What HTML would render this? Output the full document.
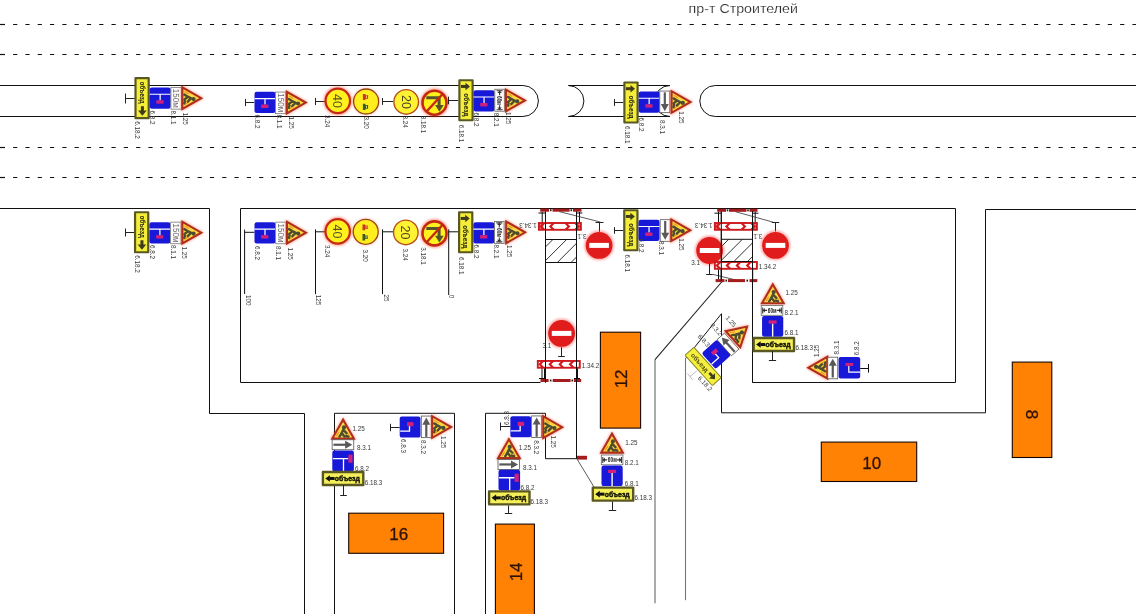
<!DOCTYPE html><html><head><meta charset="utf-8"><style>html,body{margin:0;padding:0;background:#fff;overflow:hidden}svg{display:block;font-family:"Liberation Sans",sans-serif}</style></head><body>
<svg width="1136" height="614" viewBox="0 0 1136 614">
<defs>
 <filter id="gl" x="-40%" y="-40%" width="180%" height="180%"><feGaussianBlur stdDeviation="0.8"/></filter>
 <g id="tri">
  <polygon points="-10.8,9.8 10.8,9.8 0,-9.1" fill="none" stroke="#ff5a40" stroke-width="3.8" stroke-linejoin="round" opacity="0.4" filter="url(#gl)"/>
  <polygon points="-10.8,9.8 10.8,9.8 0,-9.1" fill="#ffd840" stroke="#b02e1c" stroke-width="2.1" stroke-linejoin="miter"/>
  <path d="M-6.8,7.6 L-4.2,3.4 M6.4,7.6 L3.8,3.4" stroke="#f09828" stroke-width="1.3"/>
  <circle cx="0.9" cy="-1.4" r="2.1" fill="#4d4c30"/>
  <path d="M0.2,1 L-1.9,5 L-3.6,7.8 M-1.2,4.5 L1.4,7.8 M0.5,1.4 L3.4,4.4 M3,7.2 L5.2,7.9" stroke="#4d4c30" stroke-width="2.4" fill="none" stroke-linecap="round"/>
 </g>
 <g id="bA">
  <rect x="-10.5" y="-10.6" width="21" height="21.2" rx="2.2" fill="#1818d8"/>
  <path d="M-10.5,-3.8 H10.5 M0,-3.8 V2.2" stroke="#fff" stroke-width="1.2" fill="none"/>
  <rect x="-3.8" y="2.2" width="7.2" height="3.4" fill="#d0207a"/>
 </g>
 <g id="b81">
  <rect x="-10.6" y="-10.3" width="21.2" height="20.6" rx="2.2" fill="#1818d8"/>
  <path d="M0,-3 V10.3" stroke="#fff" stroke-width="1.4" fill="none"/>
  <rect x="-4" y="-6" width="8" height="3.2" fill="#d0207a"/>
 </g>
 <g id="b82u">
  <rect x="-10.8" y="-10.4" width="21.6" height="20.8" rx="2.2" fill="#1818d8"/>
  <path d="M-10.2,-2.3 H5.3 M0.4,-2.3 V10.4" stroke="#fff" stroke-width="1.3" fill="none"/>
  <rect x="5.3" y="-6.3" width="4.1" height="8.1" fill="#d0207a"/>
 </g>
 <g id="b83">
  <rect x="-10.4" y="-10.6" width="20.8" height="21.2" rx="2.2" fill="#1818d8"/>
  <path d="M-10,4.1 H-0.6 V-1" stroke="#fff" stroke-width="1.3" fill="none"/>
  <rect x="-3" y="-4.9" width="6.4" height="4.1" fill="#d0207a"/>
 </g>
 <g id="bD">
  <rect x="-10.8" y="-10.8" width="21.6" height="21.6" rx="2.2" fill="#1818d8"/>
  <path d="M-0.6,-1.8 V4.4 H10.8" stroke="#fff" stroke-width="1.2" fill="none"/>
  <rect x="-3.9" y="-4.7" width="7.7" height="2.9" fill="#d0207a"/>
 </g>
 <g id="p811">
  <rect x="-5.2" y="-10.8" width="10.4" height="21.6" fill="#fff" stroke="#777" stroke-width="0.8"/>
  <text opacity="0.99" transform="rotate(90)" x="0" y="2.9" text-anchor="middle" font-size="8.2" fill="#6a6a6a" textLength="19" lengthAdjust="spacingAndGlyphs">150м</text>
 </g>
 <g id="p821">
  <rect x="-4.8" y="-11" width="9.6" height="22" fill="#fff" stroke="#666" stroke-width="0.8"/>
  <path d="M-3,-9.5 H3 M-3,9.5 H3 M0,-9.5 V-5 M0,9.5 V5" stroke="#333" stroke-width="1.1"/>
  <polygon points="-2.3,-7.3 2.3,-7.3 0,-9.5" fill="#333"/><polygon points="-2.3,7.3 2.3,7.3 0,9.5" fill="#333"/>
  <text opacity="0.99" transform="rotate(90)" x="0.2" y="2.2" text-anchor="middle" font-size="6.4" font-weight="bold" fill="#222" textLength="9" lengthAdjust="spacingAndGlyphs">60м</text>
 </g>
 <g id="p821u">
  <rect x="-10.8" y="-4.9" width="21.6" height="9.8" fill="#fff" stroke="#666" stroke-width="0.8"/>
  <path d="M-9.3,-3 V3 M9.3,-3 V3 M-9.3,0 H-5 M9.3,0 H5" stroke="#333" stroke-width="1.1"/>
  <polygon points="-7.1,-2.3 -7.1,2.3 -9.3,0" fill="#333"/><polygon points="7.1,-2.3 7.1,2.3 9.3,0" fill="#333"/>
  <text opacity="0.99" x="0.2" y="2.2" text-anchor="middle" font-size="6.4" font-weight="bold" fill="#222" textLength="9" lengthAdjust="spacingAndGlyphs">60м</text>
 </g>
 <g id="p831u">
  <rect x="-10.8" y="-5" width="21.6" height="10" fill="#fff" stroke="#555" stroke-width="0.8"/>
  <path d="M-9.5,0 H3" stroke="#585858" stroke-width="2.2"/>
  <polygon points="2.2,-4 2.2,4 9.3,0" fill="#585858"/>
 </g>
 <g id="p832">
  <rect x="-5" y="-10.8" width="10" height="21.6" fill="#fff" stroke="#555" stroke-width="0.8"/>
  <path d="M0,10 V-3" stroke="#585858" stroke-width="2.2"/>
  <polygon points="-4,-2.2 4,-2.2 0,-9.3" fill="#585858"/>
 </g>
 <g id="y182">
  <rect x="-6.6" y="-20" width="13.2" height="40" fill="#f4ee3a" stroke="#5a5822" stroke-width="2.2" stroke-linejoin="round"/>
  <path d="M0.3,8 V13" stroke="#3e3c1a" stroke-width="3"/>
  <polygon points="-4,12.3 4.6,12.3 0.3,17.6" fill="#3e3c1a"/>
  <text opacity="0.99" transform="rotate(90)" x="-5.5" y="2" text-anchor="middle" font-size="6.4" font-weight="bold" fill="#2e2c10" stroke="#2e2c10" stroke-width="0.1" textLength="22" lengthAdjust="spacingAndGlyphs">объезд</text>
 </g>
 <g id="y182e">
  <rect x="-6" y="-20.4" width="12" height="40.8" rx="0.8" fill="#f3ef3c" stroke="#8a8820" stroke-width="1"/>
  <path d="M0.3,9 V13.5" stroke="#3e3c1a" stroke-width="2.6"/>
  <polygon points="-3.6,13 4.2,13 0.3,17.6" fill="#3e3c1a"/>
  <text opacity="0.99" transform="rotate(90)" x="-5" y="2.2" text-anchor="middle" font-size="6.4" font-weight="bold" fill="#4a4818" textLength="23" lengthAdjust="spacingAndGlyphs">объезд</text>
 </g>
 <g id="y181">
  <rect x="-6.6" y="-20" width="13.2" height="40" fill="#f4ee3a" stroke="#5a5822" stroke-width="2.2" stroke-linejoin="round"/>
  <path d="M-5,-13.8 H0" stroke="#3e3c1a" stroke-width="3"/>
  <polygon points="-0.5,-17.6 -0.5,-10 4,-13.8" fill="#3e3c1a"/>
  <text opacity="0.99" transform="rotate(90)" x="4.6" y="2.3" text-anchor="middle" font-size="6.4" font-weight="bold" fill="#2e2c10" stroke="#2e2c10" stroke-width="0.1" textLength="23" lengthAdjust="spacingAndGlyphs">объезд</text>
 </g>
 <g id="y183u">
  <rect x="-20.2" y="-6.5" width="40.4" height="13" fill="#f5f05a" stroke="#5a5822" stroke-width="2.4" stroke-linejoin="round"/>
  <path d="M-13.5,0 H-8.5" stroke="#111" stroke-width="3"/>
  <polygon points="-13.2,-3.3 -13.2,3.3 -17.8,0" fill="#111"/>
  <text opacity="0.99" x="4.2" y="2.4" text-anchor="middle" font-size="7" font-weight="bold" fill="#141404" stroke="#141404" stroke-width="0.45" textLength="25" lengthAdjust="spacingAndGlyphs">объезд</text>
 </g>
 <g id="ring">
  <circle r="12.9" fill="none" stroke="#ff4a2a" stroke-width="3.4" opacity="0.45" filter="url(#gl)"/>
 </g>
 <g id="c40">
  <use href="#ring"/>
  <circle r="12.2" fill="#fff01e" stroke="#c42812" stroke-width="2.2"/>
  <text opacity="0.99" transform="rotate(90)" x="0" y="4.4" text-anchor="middle" font-size="12.5" fill="#56542a">40</text>
 </g>
 <g id="c20">
  <circle r="12.3" fill="#fff232" stroke="#b8501e" stroke-width="1.4"/>
  <text opacity="0.99" transform="rotate(90)" x="0" y="4.4" text-anchor="middle" font-size="12.5" fill="#46441e">20</text>
 </g>
 <g id="c320">
  <circle r="12.9" fill="none" stroke="#ff6a4a" stroke-width="1.6" opacity="0.35" filter="url(#gl)"/>
  <circle r="12.5" fill="#ffee1e" stroke="#9a4214" stroke-width="1.3"/>
  <path d="M-3.2,-7.4 H-0.6 V-1.6 H-3.2 Z M-0.6,-6.2 H2 V-2.8 H-0.6 Z" fill="#c8381a"/><path d="M0.4,-5.6 V-3.4" stroke="#ffd0a0" stroke-width="0.8"/>
  <path d="M-3.2,2.2 H-0.6 V8.6 H-3.2 Z M-0.6,3.6 H2 V7.2 H-0.6 Z" fill="#3e5a1e"/><path d="M0.4,4.2 V6.6" stroke="#e8f0a0" stroke-width="0.8"/>
 </g>
 <g id="c3181">
  <use href="#ring"/>
  <circle r="12" fill="#fff01e" stroke="#c42812" stroke-width="2.6"/>
  <path d="M-8.2,-4.9 H4.6 V3" stroke="#56542a" stroke-width="3" fill="none"/>
  <polygon points="0.6,2.4 9.2,2.4 4.9,9" fill="#56542a"/>
  <path d="M8.6,-9.2 L-8.6,9.6" stroke="#c42812" stroke-width="2.4"/>
 </g>
 <g id="ne">
  <circle r="13.6" fill="none" stroke="#ff3a3a" stroke-width="2.6" opacity="0.45" filter="url(#gl)"/>
  <circle r="13.4" fill="#e01c1c"/>
  <rect x="-9.8" y="-2.5" width="19.6" height="5" fill="#fff"/>
 </g>
 <g id="chL"><polygon points="-3,0 0.6,-3.6 3.6,-3.6 0,0 3.6,3.6 0.6,3.6" fill="#d01a1e"/></g>
 <g id="chR"><polygon points="3,0 -0.6,-3.6 -3.6,-3.6 0,0 -3.6,3.6 -0.6,3.6" fill="#d01a1e"/></g>
 <g id="ch3">
  <rect x="-21" y="-3.4" width="42" height="6.8" fill="#fff" stroke="#d01a1e" stroke-width="1.9"/>
  <use href="#chL" x="-17.5"/><use href="#chL" x="-8"/><use href="#chR" x="7.5"/><use href="#chR" x="17.2"/>
  <rect x="-21" y="-3.4" width="4.5" height="6.8" fill="#d01a1e" opacity="0.55"/><rect x="16.5" y="-3.4" width="4.5" height="6.8" fill="#d01a1e" opacity="0.55"/>
 </g>
 <g id="ch2">
  <rect x="-21" y="-3.4" width="42" height="6.8" fill="#fff" stroke="#d01a1e" stroke-width="1.9"/>
  <use href="#chL" x="-17.5"/><use href="#chL" x="-7.5"/><use href="#chL" x="2.5"/><use href="#chL" x="12.8"/>
 </g>
</defs>
<rect width="1136" height="614" fill="#fff"/>
<g opacity="0.995">
<text x="688.6" y="13.3" font-size="13.4" fill="#282828" stroke="#fff" stroke-width="0.15" textLength="109.3" lengthAdjust="spacingAndGlyphs">пр-т Строителей</text>
<path d="M0,24.5 H1136" stroke="#111" stroke-width="1.2" stroke-dasharray="4.2 8.1" stroke-dashoffset="-0.8"/>
<path d="M0,24.5 H5" stroke="#111" stroke-width="1.2"/>
<path d="M0,54.5 H1136" stroke="#111" stroke-width="1.2" stroke-dasharray="4.2 8.1" stroke-dashoffset="-0.8"/>
<path d="M0,54.5 H5" stroke="#111" stroke-width="1.2"/>
<path d="M0,147.5 H1136" stroke="#111" stroke-width="1.2" stroke-dasharray="4.2 8.1" stroke-dashoffset="-0.8"/>
<path d="M0,147.5 H5" stroke="#111" stroke-width="1.2"/>
<path d="M0,177.5 H1136" stroke="#111" stroke-width="1.2" stroke-dasharray="4.2 8.1" stroke-dashoffset="-0.8"/>
<path d="M0,177.5 H5" stroke="#111" stroke-width="1.2"/>
<path d="M0,85.5 H522.9 A15.5,15.5 0 0 1 522.9,116.5 H0" fill="none" stroke="#111" stroke-width="1"/>
<path d="M568.4,85.5 H670 M568.4,116.5 H670 M568.4,85.5 A15.5,15.5 0 0 1 568.4,116.5 M670,85.5 A15.5,15.5 0 0 0 670,116.5" fill="none" stroke="#111" stroke-width="1"/>
<path d="M1136,85.5 H715.3 A15.5,15.5 0 0 0 715.3,116.5 H1136" fill="none" stroke="#111" stroke-width="1"/>
<path d="M0.00,208.50 L209.50,208.50 L209.50,413.50 L304.50,413.50 L304.50,614.00" fill="none" stroke="#111" stroke-width="1"/>
<path d="M540.50,382.50 L240.50,382.50 L240.50,208.50 L955.50,208.50 L955.50,382.50 L752.50,382.50 L752.50,211.00" fill="none" stroke="#111" stroke-width="1"/>
<path d="M545.50,211.50 L545.50,382.50" fill="none" stroke="#111" stroke-width="1"/>
<path d="M576.50,211.50 L576.50,458.70" fill="none" stroke="#111" stroke-width="1"/>
<path d="M485.50,614.00 L485.50,413.30 L545.50,413.30 L545.50,458.70 L576.50,458.70" fill="none" stroke="#111" stroke-width="1"/>
<path d="M334.50,614.00 L334.50,413.30 L454.50,413.30 L454.50,614.00" fill="none" stroke="#111" stroke-width="1"/>
<path d="M685.50,600.20 L685.50,358.60" fill="none" stroke="#777" stroke-width="1.1"/>
<path d="M685.50,358.60 L721.50,313.70 L721.50,412.80 L985.50,412.80 L985.50,209.50 L1136.00,209.50" fill="none" stroke="#111" stroke-width="1"/>
<path d="M655.00,603.30 L655.00,359.60" fill="none" stroke="#888" stroke-width="1.4"/>
<path d="M655.00,359.60 L722.50,281.00" fill="none" stroke="#222" stroke-width="1.1"/>
<path d="M721.30,211.50 L721.30,281.00" fill="none" stroke="#111" stroke-width="1"/>
<rect x="600.40" y="332.20" width="40.20" height="95.90" fill="#ff8205" stroke="#160600" stroke-width="1.1"/>
<text transform="translate(621.30,378.90) rotate(-90)" x="0" y="6.1" text-anchor="middle" font-size="17" fill="#2e1204" stroke="#2e1204" stroke-width="0.3">12</text>
<rect x="821.30" y="442.10" width="95.40" height="39.40" fill="#ff8205" stroke="#160600" stroke-width="1.1"/>
<text transform="translate(871.80,462.60)" x="0" y="6.1" text-anchor="middle" font-size="17" fill="#2e1204" stroke="#2e1204" stroke-width="0.3">10</text>
<rect x="1012.30" y="362.10" width="39.50" height="95.40" fill="#ff8205" stroke="#160600" stroke-width="1.1"/>
<text transform="translate(1032.00,414.60) rotate(90)" x="0" y="6.1" text-anchor="middle" font-size="17" fill="#2e1204" stroke="#2e1204" stroke-width="0.3">8</text>
<rect x="348.70" y="513.20" width="94.90" height="40.10" fill="#ff8205" stroke="#160600" stroke-width="1.1"/>
<text transform="translate(398.80,534.00)" x="0" y="6.1" text-anchor="middle" font-size="17" fill="#2e1204" stroke="#2e1204" stroke-width="0.3">16</text>
<rect x="495.40" y="524.10" width="39.00" height="91.90" fill="#ff8205" stroke="#160600" stroke-width="1.1"/>
<text transform="translate(515.80,571.90) rotate(-90)" x="0" y="6.1" text-anchor="middle" font-size="17" fill="#2e1204" stroke="#2e1204" stroke-width="0.3">14</text>
<rect x="540.20" y="208.70" width="8.80" height="3" fill="#a41c1c"/>
<rect x="552.50" y="208.70" width="17.10" height="3" fill="#a41c1c"/>
<rect x="573.00" y="208.70" width="8.50" height="3" fill="#a41c1c"/>
<rect x="549.95" y="209.20" width="1.6" height="2" fill="#222"/>
<rect x="570.50" y="209.20" width="1.6" height="2" fill="#222"/>
<path d="M538.50,213.00 L545.30,213.00" fill="none" stroke="#111" stroke-width="1"/>
<path d="M576.40,213.00 L582.40,213.00" fill="none" stroke="#111" stroke-width="1"/>
<path d="M542.20,212.00 L542.20,222.40" fill="none" stroke="#111" stroke-width="1"/>
<path d="M579.50,212.00 L579.50,222.40" fill="none" stroke="#111" stroke-width="1"/>
<use href="#ch3" transform="translate(559.90,226.40)"/>
<text transform="translate(528.00,225.50) rotate(180)" x="0" y="2.27" text-anchor="middle" font-size="6.3" fill="#383838">1.34.3</text>
<clipPath id="hc545"><rect x="545.50" y="239.50" width="31.00" height="23.00"/></clipPath>
<path d="M502.50,262.50 L525.50,239.50 M516.20,262.50 L539.20,239.50 M529.90,262.50 L552.90,239.50 M543.60,262.50 L566.60,239.50 M557.30,262.50 L580.30,239.50 M571.00,262.50 L594.00,239.50 " stroke="#333" stroke-width="1" clip-path="url(#hc545)"/>
<path d="M545.50,239.50 L576.50,239.50" fill="none" stroke="#111" stroke-width="1"/>
<path d="M545.50,262.50 L576.50,262.50" fill="none" stroke="#111" stroke-width="1"/>
<path d="M559.30,211.60 L600.30,222.00" fill="none" stroke="#333" stroke-width="0.8"/>
<path d="M595.50,222.50 L603.50,222.50" fill="none" stroke="#222" stroke-width="1"/>
<path d="M599.50,222.50 L599.50,231.80" fill="none" stroke="#222" stroke-width="1"/>
<use href="#ne" transform="translate(599.10,245.40)"/>
<text transform="translate(582.00,236.00) rotate(180)" x="0" y="2.27" text-anchor="middle" font-size="6.3" fill="#383838">3.1</text>
<use href="#ne" transform="translate(561.60,333.40)"/>
<text transform="translate(546.80,345.90)" x="0" y="2.27" text-anchor="middle" font-size="6.3" fill="#383838">3.1</text>
<path d="M558.20,356.50 L564.80,356.50" fill="none" stroke="#222" stroke-width="1"/>
<path d="M561.50,356.50 L561.50,347.20" fill="none" stroke="#222" stroke-width="1"/>
<use href="#ch2" transform="translate(558.80,364.35)"/>
<text transform="translate(590.50,366.00)" x="0" y="2.27" text-anchor="middle" font-size="6.3" fill="#383838">1.34.2</text>
<path d="M542.00,368.40 L542.00,378.00" fill="none" stroke="#111" stroke-width="1"/>
<path d="M544.50,368.40 L544.50,378.00" fill="none" stroke="#111" stroke-width="1"/>
<path d="M577.50,368.40 L577.50,378.00" fill="none" stroke="#111" stroke-width="1"/>
<path d="M539.00,378.50 L546.00,378.50" fill="none" stroke="#111" stroke-width="1"/>
<path d="M574.00,378.50 L580.00,378.50" fill="none" stroke="#111" stroke-width="1"/>
<rect x="540.50" y="379.00" width="8.10" height="3" fill="#a41c1c"/>
<rect x="552.70" y="379.00" width="17.90" height="3" fill="#a41c1c"/>
<rect x="573.90" y="379.00" width="7.30" height="3" fill="#a41c1c"/>
<rect x="549.85" y="379.50" width="1.6" height="2" fill="#222"/>
<rect x="571.45" y="379.50" width="1.6" height="2" fill="#222"/>
<rect x="717.20" y="208.80" width="8.80" height="3" fill="#a41c1c"/>
<rect x="729.00" y="208.80" width="17.50" height="3" fill="#a41c1c"/>
<rect x="749.50" y="208.80" width="8.00" height="3" fill="#a41c1c"/>
<rect x="726.70" y="209.30" width="1.6" height="2" fill="#222"/>
<rect x="747.20" y="209.30" width="1.6" height="2" fill="#222"/>
<path d="M714.50,213.20 L721.30,213.20" fill="none" stroke="#111" stroke-width="1"/>
<path d="M752.70,213.20 L758.50,213.20" fill="none" stroke="#111" stroke-width="1"/>
<path d="M718.50,212.00 L718.50,222.30" fill="none" stroke="#111" stroke-width="1"/>
<path d="M755.20,212.00 L755.20,222.30" fill="none" stroke="#111" stroke-width="1"/>
<use href="#ch3" transform="translate(735.90,226.40)"/>
<text transform="translate(703.70,225.60) rotate(180)" x="0" y="2.27" text-anchor="middle" font-size="6.3" fill="#383838">1.34.3</text>
<path d="M735.50,211.70 L773.60,222.30" fill="none" stroke="#333" stroke-width="0.8"/>
<path d="M771.80,222.50 L779.20,222.50" fill="none" stroke="#222" stroke-width="1"/>
<path d="M775.50,222.50 L775.50,231.50" fill="none" stroke="#222" stroke-width="1"/>
<use href="#ne" transform="translate(775.50,245.40)"/>
<text transform="translate(757.90,236.60) rotate(180)" x="0" y="2.27" text-anchor="middle" font-size="6.3" fill="#383838">3.1</text>
<clipPath id="hc721"><rect x="721.30" y="239.30" width="31.40" height="21.90"/></clipPath>
<path d="M679.40,261.20 L701.30,239.30 M693.10,261.20 L715.00,239.30 M706.80,261.20 L728.70,239.30 M720.50,261.20 L742.40,239.30 M734.20,261.20 L756.10,239.30 M747.90,261.20 L769.80,239.30 " stroke="#333" stroke-width="1" clip-path="url(#hc721)"/>
<path d="M721.30,239.30 L752.70,239.30" fill="none" stroke="#111" stroke-width="1"/>
<use href="#ne" transform="translate(709.60,250.50)"/>
<text transform="translate(695.70,263.00)" x="0" y="2.27" text-anchor="middle" font-size="6.3" fill="#383838">3.1</text>
<path d="M706.20,274.50 L712.80,274.50" fill="none" stroke="#222" stroke-width="1"/>
<path d="M709.50,274.50 L709.50,263.70" fill="none" stroke="#222" stroke-width="1"/>
<path d="M712.80,274.40 L736.00,280.00" fill="none" stroke="#333" stroke-width="0.8"/>
<use href="#ch2" transform="translate(735.90,265.40)"/>
<text transform="translate(767.40,266.70)" x="0" y="2.27" text-anchor="middle" font-size="6.3" fill="#383838">1.34.2</text>
<path d="M718.50,269.60 L718.50,279.00" fill="none" stroke="#111" stroke-width="1"/>
<path d="M721.30,269.60 L721.30,279.00" fill="none" stroke="#111" stroke-width="1"/>
<path d="M752.70,269.60 L752.70,279.00" fill="none" stroke="#111" stroke-width="1"/>
<rect x="715.60" y="279.10" width="8.90" height="3" fill="#a41c1c"/>
<rect x="728.00" y="279.10" width="17.00" height="3" fill="#a41c1c"/>
<rect x="749.50" y="279.10" width="7.80" height="3" fill="#a41c1c"/>
<rect x="725.45" y="279.60" width="1.6" height="2" fill="#222"/>
<rect x="746.45" y="279.60" width="1.6" height="2" fill="#222"/>
<path d="M545.50,211.50 L545.50,382.50" fill="none" stroke="#111" stroke-width="1"/>
<path d="M576.50,211.50 L576.50,458.70" fill="none" stroke="#111" stroke-width="1"/>
<path d="M721.30,211.50 L721.30,281.00" fill="none" stroke="#111" stroke-width="1"/>
<path d="M752.50,211.00 L752.50,382.50" fill="none" stroke="#111" stroke-width="1"/>
<path d="M721.30,261.50 L752.50,261.50" fill="none" stroke="#111" stroke-width="1"/>
<path d="M577.00,459.00 L594.00,487.00" fill="none" stroke="#333" stroke-width="0.8"/>
<rect x="577" y="455.8" width="10" height="3.8" fill="#a41c1c"/>
<path d="M125.50,93.50 L125.50,103.50" fill="none" stroke="#222" stroke-width="1"/>
<path d="M125.50,98.50 L134.70,98.50" fill="none" stroke="#222" stroke-width="1"/>
<use href="#y182" transform="translate(142.10,98.20)"/>
<use href="#bA" transform="translate(160.15,98.05)"/>
<use href="#p811" transform="translate(176.15,98.35)"/>
<use href="#tri" transform="translate(192.15,98.20) rotate(90)"/>
<text transform="translate(137.30,129.90) rotate(90)" x="0" y="2.27" text-anchor="middle" font-size="6.3" fill="#383838">6.18.2</text>
<text transform="translate(152.40,117.40) rotate(90)" x="0" y="2.27" text-anchor="middle" font-size="6.3" fill="#383838">6.8.2</text>
<text transform="translate(173.50,117.40) rotate(90)" x="0" y="2.27" text-anchor="middle" font-size="6.3" fill="#383838">8.1.1</text>
<text transform="translate(185.00,118.50) rotate(90)" x="0" y="2.27" text-anchor="middle" font-size="6.3" fill="#383838">1.25</text>
<path d="M245.50,98.90 L245.50,106.10" fill="none" stroke="#222" stroke-width="1"/>
<path d="M245.50,102.50 L254.20,102.50" fill="none" stroke="#222" stroke-width="1"/>
<use href="#bA" transform="translate(265.00,102.35)"/>
<use href="#p811" transform="translate(280.70,102.85)"/>
<use href="#tri" transform="translate(296.65,102.60) rotate(90)"/>
<text transform="translate(257.60,121.40) rotate(90)" x="0" y="2.27" text-anchor="middle" font-size="6.3" fill="#383838">6.8.2</text>
<text transform="translate(279.00,121.40) rotate(90)" x="0" y="2.27" text-anchor="middle" font-size="6.3" fill="#383838">8.1.1</text>
<text transform="translate(291.30,122.50) rotate(90)" x="0" y="2.27" text-anchor="middle" font-size="6.3" fill="#383838">1.25</text>
<path d="M315.50,97.90 L315.50,105.10" fill="none" stroke="#222" stroke-width="1"/>
<path d="M315.50,101.50 L325.00,101.50" fill="none" stroke="#222" stroke-width="1"/>
<use href="#c40" transform="translate(337.80,100.90)"/>
<use href="#c320" transform="translate(366.10,101.50)"/>
<path d="M382.50,98.10 L382.50,104.90" fill="none" stroke="#222" stroke-width="1"/>
<path d="M382.50,101.50 L393.30,101.50" fill="none" stroke="#222" stroke-width="1"/>
<use href="#c20" transform="translate(406.20,101.90)"/>
<use href="#c3181" transform="translate(434.50,102.70)"/>
<path d="M448.50,96.70 L448.50,104.30" fill="none" stroke="#222" stroke-width="1"/>
<path d="M448.50,100.50 L458.20,100.50" fill="none" stroke="#222" stroke-width="1"/>
<text transform="translate(327.30,121.20) rotate(90)" x="0" y="2.27" text-anchor="middle" font-size="6.3" fill="#383838">3.24</text>
<text transform="translate(366.00,122.50) rotate(90)" x="0" y="2.27" text-anchor="middle" font-size="6.3" fill="#383838">3.20</text>
<text transform="translate(405.60,121.50) rotate(90)" x="0" y="2.27" text-anchor="middle" font-size="6.3" fill="#383838">3.24</text>
<text transform="translate(423.50,124.50) rotate(90)" x="0" y="2.27" text-anchor="middle" font-size="6.3" fill="#383838">3.18.1</text>
<use href="#y181" transform="translate(466.00,100.25)"/>
<use href="#bA" transform="translate(484.05,100.80)"/>
<use href="#p821" transform="translate(499.60,100.25)"/>
<use href="#tri" transform="translate(515.80,100.50) rotate(90)"/>
<text transform="translate(461.50,133.50) rotate(90)" x="0" y="2.27" text-anchor="middle" font-size="6.3" fill="#383838">6.18.1</text>
<text transform="translate(476.50,119.40) rotate(90)" x="0" y="2.27" text-anchor="middle" font-size="6.3" fill="#383838">6.8.2</text>
<text transform="translate(496.30,119.70) rotate(90)" x="0" y="2.27" text-anchor="middle" font-size="6.3" fill="#383838">8.2.1</text>
<text transform="translate(508.50,118.00) rotate(90)" x="0" y="2.27" text-anchor="middle" font-size="6.3" fill="#383838">1.25</text>
<path d="M614.50,99.10 L614.50,105.90" fill="none" stroke="#222" stroke-width="1"/>
<path d="M614.50,102.50 L623.30,102.50" fill="none" stroke="#222" stroke-width="1"/>
<use href="#y181" transform="translate(631.00,102.50)"/>
<use href="#bA" transform="translate(649.15,102.05)"/>
<use href="#p831u" transform="translate(664.80,101.85) rotate(90)"/>
<use href="#tri" transform="translate(681.40,102.00) rotate(90)"/>
<text transform="translate(627.00,134.70) rotate(90)" x="0" y="2.27" text-anchor="middle" font-size="6.3" fill="#383838">6.18.1</text>
<text transform="translate(641.60,124.50) rotate(90)" x="0" y="2.27" text-anchor="middle" font-size="6.3" fill="#383838">6.8.2</text>
<text transform="translate(661.80,127.00) rotate(90)" x="0" y="2.27" text-anchor="middle" font-size="6.3" fill="#383838">8.3.1</text>
<text transform="translate(681.30,117.30) rotate(90)" x="0" y="2.27" text-anchor="middle" font-size="6.3" fill="#383838">1.25</text>
<path d="M125.50,228.50 L125.50,236.50" fill="none" stroke="#222" stroke-width="1"/>
<path d="M125.50,232.50 L134.30,232.50" fill="none" stroke="#222" stroke-width="1"/>
<use href="#y182" transform="translate(141.65,232.25)"/>
<use href="#bA" transform="translate(159.90,232.95)"/>
<use href="#p811" transform="translate(175.85,232.95)"/>
<use href="#tri" transform="translate(192.15,232.70) rotate(90)"/>
<text transform="translate(137.60,264.10) rotate(90)" x="0" y="2.27" text-anchor="middle" font-size="6.3" fill="#383838">6.18.2</text>
<text transform="translate(152.30,251.90) rotate(90)" x="0" y="2.27" text-anchor="middle" font-size="6.3" fill="#383838">6.8.2</text>
<text transform="translate(173.20,251.90) rotate(90)" x="0" y="2.27" text-anchor="middle" font-size="6.3" fill="#383838">8.1.1</text>
<text transform="translate(184.50,252.70) rotate(90)" x="0" y="2.27" text-anchor="middle" font-size="6.3" fill="#383838">1.25</text>
<path d="M244.60,229.60 L244.60,294.00" fill="none" stroke="#111" stroke-width="1"/>
<path d="M244.60,232.30 L254.40,232.30" fill="none" stroke="#111" stroke-width="1"/>
<use href="#bA" transform="translate(265.00,232.95)"/>
<use href="#p811" transform="translate(280.85,232.95)"/>
<use href="#tri" transform="translate(296.80,232.70) rotate(90)"/>
<text transform="translate(248.70,300.30) rotate(90)" x="0" y="2.27" text-anchor="middle" font-size="6.3" fill="#383838">100</text>
<text transform="translate(257.00,253.00) rotate(90)" x="0" y="2.27" text-anchor="middle" font-size="6.3" fill="#383838">6.8.2</text>
<text transform="translate(278.60,253.00) rotate(90)" x="0" y="2.27" text-anchor="middle" font-size="6.3" fill="#383838">8.1.1</text>
<text transform="translate(290.20,253.50) rotate(90)" x="0" y="2.27" text-anchor="middle" font-size="6.3" fill="#383838">1.25</text>
<path d="M315.50,229.40 L315.50,294.10" fill="none" stroke="#111" stroke-width="1"/>
<path d="M315.50,231.80 L325.00,231.80" fill="none" stroke="#111" stroke-width="1"/>
<use href="#c40" transform="translate(337.70,231.40)"/>
<use href="#c320" transform="translate(365.70,231.80)"/>
<path d="M382.50,229.40 L382.50,294.10" fill="none" stroke="#111" stroke-width="1"/>
<path d="M382.50,231.80 L393.00,231.80" fill="none" stroke="#111" stroke-width="1"/>
<use href="#c20" transform="translate(405.80,232.40)"/>
<use href="#c3181" transform="translate(434.50,233.40)"/>
<path d="M448.70,229.40 L448.70,295.00" fill="none" stroke="#111" stroke-width="1"/>
<path d="M448.70,231.80 L458.40,231.80" fill="none" stroke="#111" stroke-width="1"/>
<text transform="translate(327.20,251.10) rotate(90)" x="0" y="2.27" text-anchor="middle" font-size="6.3" fill="#383838">3.24</text>
<text transform="translate(365.70,255.50) rotate(90)" x="0" y="2.27" text-anchor="middle" font-size="6.3" fill="#383838">3.20</text>
<text transform="translate(405.20,254.50) rotate(90)" x="0" y="2.27" text-anchor="middle" font-size="6.3" fill="#383838">3.24</text>
<text transform="translate(423.40,256.00) rotate(90)" x="0" y="2.27" text-anchor="middle" font-size="6.3" fill="#383838">3.18.1</text>
<text transform="translate(318.00,300.00) rotate(90)" x="0" y="2.27" text-anchor="middle" font-size="6.3" fill="#383838">125</text>
<text transform="translate(386.00,298.00) rotate(90)" x="0" y="2.27" text-anchor="middle" font-size="6.3" fill="#383838">25</text>
<text transform="translate(451.70,296.50) rotate(90)" x="0" y="2.27" text-anchor="middle" font-size="6.3" fill="#383838">0</text>
<use href="#y181" transform="translate(465.70,232.25)"/>
<use href="#bA" transform="translate(483.90,232.90)"/>
<use href="#p821" transform="translate(499.30,232.40)"/>
<use href="#tri" transform="translate(516.00,232.35) rotate(90)"/>
<text transform="translate(460.80,265.80) rotate(90)" x="0" y="2.27" text-anchor="middle" font-size="6.3" fill="#383838">6.18.1</text>
<text transform="translate(476.40,251.60) rotate(90)" x="0" y="2.27" text-anchor="middle" font-size="6.3" fill="#383838">6.8.2</text>
<text transform="translate(496.30,251.60) rotate(90)" x="0" y="2.27" text-anchor="middle" font-size="6.3" fill="#383838">8.2.1</text>
<text transform="translate(509.40,251.00) rotate(90)" x="0" y="2.27" text-anchor="middle" font-size="6.3" fill="#383838">1.25</text>
<path d="M614.50,227.20 L614.50,233.80" fill="none" stroke="#222" stroke-width="1"/>
<path d="M614.50,230.50 L623.40,230.50" fill="none" stroke="#222" stroke-width="1"/>
<use href="#y181" transform="translate(630.85,230.25)"/>
<use href="#bA" transform="translate(649.05,230.30)"/>
<use href="#p831u" transform="translate(665.20,230.50) rotate(90)"/>
<use href="#tri" transform="translate(681.15,230.25) rotate(90)"/>
<text transform="translate(627.00,263.20) rotate(90)" x="0" y="2.27" text-anchor="middle" font-size="6.3" fill="#383838">6.18.1</text>
<text transform="translate(640.80,245.50) rotate(90)" x="0" y="2.27" text-anchor="middle" font-size="6.3" fill="#383838">6.8.2</text>
<text transform="translate(661.30,248.00) rotate(90)" x="0" y="2.27" text-anchor="middle" font-size="6.3" fill="#383838">8.3.1</text>
<text transform="translate(680.90,244.40) rotate(90)" x="0" y="2.27" text-anchor="middle" font-size="6.3" fill="#383838">1.25</text>
<use href="#tri" transform="translate(772.80,293.50)"/>
<use href="#p821u" transform="translate(772.00,310.40)"/>
<use href="#b81" transform="translate(772.65,326.40)"/>
<use href="#y183u" transform="translate(773.85,344.55)"/>
<path d="M768.90,360.50 L776.10,360.50" fill="none" stroke="#222" stroke-width="1"/>
<path d="M772.50,360.50 L772.50,351.30" fill="none" stroke="#222" stroke-width="1"/>
<text x="785.40" y="295.27" font-size="6.3" fill="#383838">1.25</text>
<text x="784.60" y="315.27" font-size="6.3" fill="#383838">8.2.1</text>
<text x="784.60" y="335.27" font-size="6.3" fill="#383838">6.8.1</text>
<text x="795.60" y="350.27" font-size="6.3" fill="#383838">6.18.3</text>
<use href="#tri" transform="translate(817.45,367.70) rotate(-90)"/>
<use href="#p831u" transform="translate(832.75,368.00) rotate(-90)"/>
<use href="#bD" transform="translate(849.40,367.70)"/>
<path d="M860.20,368.50 L868.50,368.50" fill="none" stroke="#111" stroke-width="1"/>
<path d="M868.50,364.00 L868.50,372.60" fill="none" stroke="#111" stroke-width="1"/>
<text transform="translate(817.20,350.80) rotate(-90)" x="0" y="2.27" text-anchor="middle" font-size="6.3" fill="#383838">1.25</text>
<text transform="translate(836.70,347.50) rotate(-90)" x="0" y="2.27" text-anchor="middle" font-size="6.3" fill="#383838">8.3.1</text>
<text transform="translate(856.30,348.20) rotate(-90)" x="0" y="2.27" text-anchor="middle" font-size="6.3" fill="#383838">6.8.2</text>
<path d="M690.00,376.60 L696.80,370.80" fill="none" stroke="#aaa" stroke-width="0.8"/>
<path d="M687.50,373.50 L692.50,379.70" fill="none" stroke="#aaa" stroke-width="0.8"/>
<use href="#y182e" transform="translate(703.10,366.40) rotate(-42)"/>
<use href="#b83" transform="translate(716.40,354.20) rotate(-42)"/>
<use href="#p832" transform="translate(728.00,344.40) rotate(-42)"/>
<use href="#tri" transform="translate(740.30,332.65) rotate(48)"/>
<text transform="translate(705.10,383.50) rotate(48)" x="0" y="2.27" text-anchor="middle" font-size="6.3" fill="#383838">6.18.2</text>
<text transform="translate(704.00,340.50) rotate(48)" x="0" y="2.27" text-anchor="middle" font-size="6.3" fill="#383838">6.8.3</text>
<text transform="translate(716.30,329.30) rotate(48)" x="0" y="2.27" text-anchor="middle" font-size="6.3" fill="#383838">8.3.2</text>
<text transform="translate(731.00,321.30) rotate(48)" x="0" y="2.27" text-anchor="middle" font-size="6.3" fill="#383838">1.25</text>
<use href="#tri" transform="translate(343.10,428.80)"/>
<use href="#p831u" transform="translate(342.95,444.75)"/>
<use href="#b82u" transform="translate(343.10,461.00)"/>
<use href="#y183u" transform="translate(343.10,478.45)"/>
<path d="M340.20,495.50 L346.80,495.50" fill="none" stroke="#222" stroke-width="1"/>
<path d="M343.50,495.50 L343.50,485.00" fill="none" stroke="#222" stroke-width="1"/>
<text x="352.50" y="430.87" font-size="6.3" fill="#383838">1.25</text>
<text x="357.00" y="449.97" font-size="6.3" fill="#383838">8.3.1</text>
<text x="355.00" y="470.77" font-size="6.3" fill="#383838">6.8.2</text>
<text x="364.70" y="485.07" font-size="6.3" fill="#383838">6.18.3</text>
<path d="M390.50,423.80 L390.50,431.20" fill="none" stroke="#222" stroke-width="1"/>
<path d="M390.50,427.50 L399.70,427.50" fill="none" stroke="#222" stroke-width="1"/>
<use href="#b83" transform="translate(410.10,427.00)"/>
<use href="#p832" transform="translate(426.30,426.85)"/>
<use href="#tri" transform="translate(442.00,427.00) rotate(90)"/>
<text transform="translate(403.00,446.10) rotate(90)" x="0" y="2.27" text-anchor="middle" font-size="6.3" fill="#383838">6.8.3</text>
<text transform="translate(423.30,447.00) rotate(90)" x="0" y="2.27" text-anchor="middle" font-size="6.3" fill="#383838">8.3.2</text>
<text transform="translate(442.90,442.00) rotate(90)" x="0" y="2.27" text-anchor="middle" font-size="6.3" fill="#383838">1.25</text>
<path d="M500.50,422.50 L500.50,430.50" fill="none" stroke="#222" stroke-width="1"/>
<path d="M500.50,426.50 L510.30,426.50" fill="none" stroke="#222" stroke-width="1"/>
<use href="#b83" transform="translate(520.75,426.75)"/>
<use href="#p832" transform="translate(536.65,426.75)"/>
<use href="#tri" transform="translate(553.05,427.15) rotate(90)"/>
<text transform="translate(506.40,418.00) rotate(-90)" x="0" y="2.27" text-anchor="middle" font-size="6.3" fill="#383838">6.8.3</text>
<text transform="translate(536.60,447.30) rotate(90)" x="0" y="2.27" text-anchor="middle" font-size="6.3" fill="#383838">8.3.2</text>
<text transform="translate(553.20,441.50) rotate(90)" x="0" y="2.27" text-anchor="middle" font-size="6.3" fill="#383838">1.25</text>
<use href="#tri" transform="translate(508.90,448.35)"/>
<use href="#p831u" transform="translate(508.80,464.45)"/>
<use href="#b82u" transform="translate(509.30,480.05)"/>
<use href="#y183u" transform="translate(509.30,497.85)"/>
<path d="M504.80,513.50 L512.20,513.50" fill="none" stroke="#222" stroke-width="1"/>
<path d="M508.50,513.50 L508.50,505.50" fill="none" stroke="#222" stroke-width="1"/>
<text x="518.70" y="449.57" font-size="6.3" fill="#383838">1.25</text>
<text x="523.00" y="469.67" font-size="6.3" fill="#383838">8.3.1</text>
<text x="520.60" y="489.77" font-size="6.3" fill="#383838">6.8.2</text>
<text x="530.40" y="503.87" font-size="6.3" fill="#383838">6.18.3</text>
<use href="#tri" transform="translate(612.00,442.80)"/>
<use href="#p821u" transform="translate(612.10,459.90)"/>
<use href="#b81" transform="translate(612.10,475.80)"/>
<use href="#y183u" transform="translate(613.00,494.15)"/>
<path d="M608.80,510.50 L616.20,510.50" fill="none" stroke="#222" stroke-width="1"/>
<path d="M612.50,510.50 L612.50,501.50" fill="none" stroke="#222" stroke-width="1"/>
<text x="625.30" y="445.07" font-size="6.3" fill="#383838">1.25</text>
<text x="624.80" y="464.97" font-size="6.3" fill="#383838">8.2.1</text>
<text x="624.80" y="485.77" font-size="6.3" fill="#383838">6.8.1</text>
<text x="634.60" y="500.17" font-size="6.3" fill="#383838">6.18.3</text>
</g></svg></body></html>
